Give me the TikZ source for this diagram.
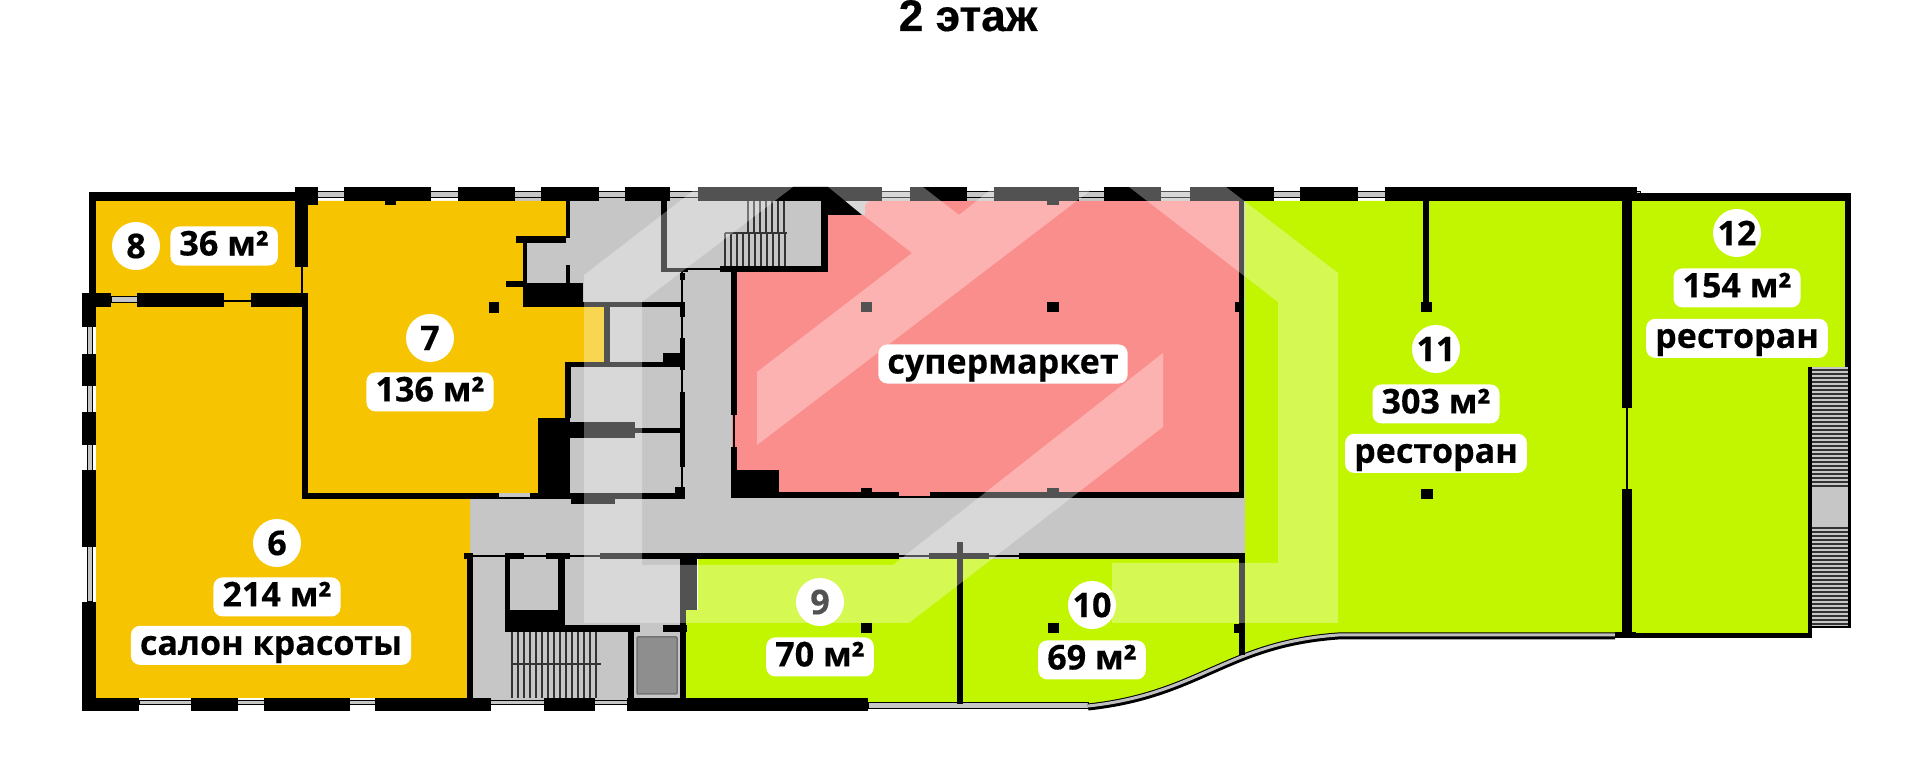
\documentclass[tikz,border=0pt]{standalone}
\usepackage{fontspec}
\setmainfont[BoldFeatures={FakeBold=0.3}]{Open Sans}
\newfontfamily\titlefont[BoldFeatures={FakeBold=0.4}]{Liberation Sans}
\usetikzlibrary{positioning}

\definecolor{floorgray}{HTML}{C6C6C6}
\definecolor{roomyellow}{HTML}{F6C400}
\definecolor{roompink}{HTML}{FA8E8C}
\definecolor{roomgreen}{HTML}{C2F500}
\definecolor{liftgray}{HTML}{8E8E8E}

\tikzset{
    wall/.style={fill=black},
    glass/.style={fill=floorgray,draw=black,line width=0.01cm},
    thinwall/.style={draw=black,line width=0.012cm},
    steps/.style={draw=black!80,line width=0.012cm},
    numlabel/.style={circle,fill=white,minimum size=0.48cm,inner sep=0pt,font=\fontsize{9.7}{11}\bfseries},
    arealabel/.style={rectangle,rounded corners=0.09cm,fill=white,minimum height=0.39cm,inner ysep=0pt,inner xsep=0.09cm,font=\fontsize{9.7}{11}\bfseries,text height=0.24cm,text depth=0.05cm},
    logoband/.style={fill=white,fill opacity=0.32}
}

\begin{document}
\begin{tikzpicture}[x=0.01cm,y=-0.01cm]
    \useasboundingbox (0,0) rectangle (1920,758);

    \node[anchor=base,font=\titlefont\fontsize{12.6}{14}\bfseries] (title) at (968,31) {2 этаж};

    \fill[floorgray] (470,197) rectangle (1245,559);
    \fill[floorgray] (470,559) rectangle (690,704);

    \fill[roomyellow] (96,201) rectangle (308,307);
    \fill[roomyellow] (96,307) -- (302,307) -- (302,499) -- (470,499) -- (470,553) -- (467,553) -- (467,698) -- (96,698) -- cycle;
    \fill[roomyellow] (308,201) -- (566,201) -- (566,243) -- (523,243) -- (523,307) -- (605,307) -- (605,362) -- (566,362) -- (566,418) -- (538,418) -- (538,493) -- (308,493) -- cycle;
    \fill[roompink] (732,272) -- (828,272) -- (828,215) -- (865,215) -- (865,205) -- (869,201) -- (1239,201) -- (1239,492) -- (930,492) -- (930,496) -- (899,496) -- (899,492) -- (779,492) -- (779,470) -- (732,470) -- cycle;
    \fill[roomgreen] (686,610) -- (698,610) -- (698,559) -- (957,559) -- (957,704) -- (868,704) -- (868,698) -- (686,698) -- cycle;
    \fill[roomgreen] (963,559) -- (1245,559) -- (1245,201) -- (1627,201) -- (1627,634) -- (1338,634) .. controls (1226,643) and (1200,694) .. (1088,706) -- (963,706) -- cycle;
    \fill[roomgreen] (1627,201) -- (1845,201) -- (1845,367) -- (1808,367) -- (1808,633) -- (1627,633) -- cycle;

    \foreach \xa in {748,754,...,787} \draw[steps] (\xa,201) -- (\xa,233);
    \foreach \xa in {725,731,...,787} \draw[steps] (\xa,233) -- (\xa,267);
    \draw[steps] (725,233) -- (787,233);
    \foreach \xa in {512,518,...,601} \draw[steps] (\xa,632) -- (\xa,698);
    \draw[steps] (512,664) -- (601,664);
    \fill[floorgray] (1811,367) rectangle (1848,628);
    \foreach \ya in {370,374,...,486} \draw[steps] (1811,\ya) -- (1848,\ya);
    \foreach \ya in {528,532,...,626} \draw[steps] (1811,\ya) -- (1848,\ya);
    \draw[fill=liftgray,draw=black!55,line width=0.015cm,rounded corners=0.01cm] (637,637) rectangle (677,694);

    \draw[glass] (300,192) rectangle (1640,198);
    \draw[glass] (87,327) rectangle (92,602);
    \draw[glass] (139,701) rectangle (627,705);
    \draw[glass] (111,297) rectangle (137,303);
    \draw[thinwall] (224,301) -- (251,301);
    \draw[thinwall] (302,267) -- (302,293);

    \foreach \xa/\xb in {295/318,344/431,458/515,541/599,625/670,698/882,910/967,994/1079,1104/1161,1190/1274,1300/1358,1385/1637} \fill[wall] (\xa,187) rectangle (\xb,201);
    \fill[wall] (89,192) rectangle (318,201);
    \fill[wall] (1637,193) rectangle (1851,201);
    \fill[wall] (89,192) rectangle (96,300);
    \fill[wall] (295,187) rectangle (308,267);
    \fill[wall] (295,187) rectangle (318,205);
    \fill[wall] (385,201) rectangle (396,205);
    \fill[wall] (1047,201) rectangle (1059,205);

    \foreach \xa/\xb in {82/111,137/224,251/308} \fill[wall] (\xa,293) rectangle (\xb,307);
    \foreach \ya/\yb in {293/327,354/386,412/445,470/547,602/711} \fill[wall] (82,\ya) rectangle (96,\yb);
    \foreach \xa/\xb in {82/139,191/238,264/350,375/491,544/595,627/868} \fill[wall] (\xa,698) rectangle (\xb,711);
    \draw[glass] (868,703) rectangle (1088,709);
    \draw[line width=0.07cm,draw=black] (1088,707) .. controls (1200,695) and (1226,644) .. (1338,636) -- (1615,636);
    \draw[line width=0.03cm,draw=black!25] (1088,706) .. controls (1200,694) and (1226,643) .. (1338,635) -- (1615,635);

    \fill[wall] (302,300) rectangle (308,499);
    \fill[wall] (302,493) rectangle (499,499);
    \draw[thinwall] (499,498) -- (530,498);
    \fill[wall] (530,493) rectangle (684,499);
    \fill[wall] (538,418) rectangle (570,499);
    \fill[wall] (571,493) rectangle (615,504);
    \fill[wall] (675,487) rectangle (685,499);

    \fill[wall] (516,236) rectangle (566,243);
    \fill[wall] (523,243) rectangle (527,283);
    \fill[wall] (506,281) rectangle (525,287);
    \fill[wall] (566,201) rectangle (570,238);
    \fill[wall] (566,265) rectangle (570,283);
    \fill[wall] (523,283) rectangle (583,307);
    \fill[wall] (489,302) rectangle (499,313);
    \fill[wall] (583,302) rectangle (684,307);
    \fill[wall] (604,307) rectangle (610,362);
    \fill[wall] (565,362) rectangle (684,367);
    \fill[wall] (663,353) rectangle (684,367);
    \fill[wall] (565,362) rectangle (571,418);
    \fill[wall] (570,422) rectangle (635,438);
    \fill[wall] (635,428) rectangle (682,433);
    \fill[wall] (661,201) rectangle (667,272);
    \fill[wall] (661,268) rectangle (688,272);
    \draw[thinwall] (688,269) -- (720,269);
    \draw[thinwall] (682,272) -- (682,498);
    \foreach \ya/\yb in {273/280,302/317,338/370,392/467,487/498} \fill[wall] (680,\ya) rectangle (685,\yb);

    \fill[wall] (720,266) rectangle (828,272);
    \fill[wall] (821,201) rectangle (828,272);
    \fill[wall] (731,268) rectangle (737,415);
    \draw[thinwall] (734,415) -- (734,447);
    \fill[wall] (731,447) rectangle (737,498);
    \fill[wall] (731,470) rectangle (779,498);
    \fill[wall] (731,492) rectangle (899,498);
    \draw[thinwall] (899,497) -- (930,497);
    \fill[wall] (930,492) rectangle (1244,498);
    \fill[wall] (1239,201) rectangle (1244,498);
    \fill[wall] (861,488) rectangle (872,492);
    \fill[wall] (1047,488) rectangle (1059,492);
    \fill[wall] (861,302) rectangle (872,312);
    \fill[wall] (1047,302) rectangle (1059,312);
    \fill[wall] (1235,302) rectangle (1239,312);

    \fill[wall] (464,553) rectangle (473,559);
    \fill[wall] (467,553) rectangle (473,698);
    \draw[thinwall] (473,556) -- (600,556);
    \foreach \xa/\xb in {505/524,546/570,600/899,929/989,1019/1245} \fill[wall] (\xa,553) rectangle (\xb,559);
    \draw[thinwall] (899,556) -- (929,556);
    \draw[thinwall] (989,556) -- (1019,556);
    \fill[wall] (505,559) rectangle (510,610);
    \fill[wall] (558,559) rectangle (565,610);
    \fill[wall] (505,610) rectangle (565,632);
    \fill[wall] (565,625) rectangle (640,632);
    \fill[wall] (663,625) rectangle (687,632);
    \fill[wall] (628,632) rectangle (634,698);
    \fill[wall] (680,553) rectangle (697,610);
    \fill[wall] (680,610) rectangle (686,698);
    \fill[wall] (957,542) rectangle (963,704);
    \fill[wall] (861,623) rectangle (872,633);
    \fill[wall] (1048,623) rectangle (1059,633);
    \fill[wall] (1239,559) rectangle (1245,655);
    \fill[wall] (1234,624) rectangle (1239,633);

    \fill[wall] (1423,201) rectangle (1429,302);
    \fill[wall] (1421,302) rectangle (1432,312);
    \fill[wall] (1421,489) rectangle (1433,499);
    \fill[wall] (1622,201) rectangle (1632,408);
    \draw[thinwall] (1627,408) -- (1627,489);
    \fill[wall] (1622,489) rectangle (1632,634);
    \fill[wall] (1615,632) rectangle (1636,638);
    \fill[wall] (1615,633) rectangle (1812,638);
    \fill[wall] (1808,367) rectangle (1812,638);
    \fill[wall] (1845,193) rectangle (1851,367);
    \fill[wall] (1848,367) rectangle (1851,628);
    \fill[wall] (1812,626) rectangle (1851,628);

    \node[numlabel] (n9) at (820,602) {9};

    \fill[logoband] (584,275) -- (698,187) -- (793,187) -- (642,302) -- (642,565) -- (893,565) -- (1163,353) -- (1163,427) -- (909,623) -- (584,623) -- cycle;
    \fill[logoband] (827,187) -- (912,253) -- (757,372) -- (757,445) -- (1095,187) -- (994,187) -- (959,215) -- (923,187) -- cycle;
    \fill[logoband] (1129,187) -- (1226,187) -- (1338,273) -- (1338,623) -- (1112,623) -- (1112,563) -- (1278,563) -- (1278,302) -- cycle;
    \fill[wall] (793,187) -- (828,187) -- (862,215) -- (828,215) -- (828,201) -- (780,201) -- cycle;

    \node[arealabel,below=0.1cm of n9] (a9) {70 м²};

    \node[numlabel] (n8) at (136,246) {8};
    \node[arealabel,right=0.09cm of n8] (a8) {36 м²};

    \node[numlabel] (n7) at (430,338) {7};
    \node[arealabel,below=0.09cm of n7] (a7) {136 м²};

    \node[numlabel] (n6) at (277,543) {6};
    \node[arealabel,below=0.09cm of n6] (a6) {214 м²};
    \node[arealabel,below=0.08cm of a6,xshift=-0.06cm] (t6) {салон красоты};

    \node[arealabel] (market) at (1003,364) {супермаркет};

    \node[numlabel] (n10) at (1092,605) {10};
    \node[arealabel,below=0.1cm of n10] (a10) {69 м²};

    \node[numlabel] (n11) at (1436,349) {11};
    \node[arealabel,below=0.1cm of n11] (a11) {303 м²};
    \node[arealabel,below=0.09cm of a11] (t11) {ресторан};

    \node[numlabel] (n12) at (1737,233) {12};
    \node[arealabel,below=0.1cm of n12] (a12) {154 м²};
    \node[arealabel,below=0.1cm of a12] (t12) {ресторан};
\end{tikzpicture}
\end{document}
